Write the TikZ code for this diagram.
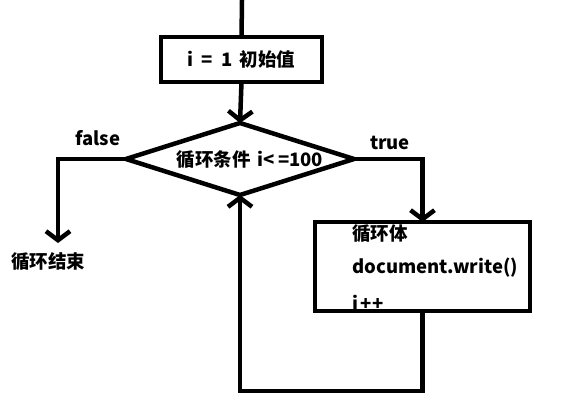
\documentclass[tikz,border=0pt]{standalone}
\usepackage{fontspec}
\setmainfont{Noto Sans CJK SC}
\usetikzlibrary{arrows.meta,shapes.geometric}
\begin{document}
\begin{tikzpicture}[x=1pt,y=-1pt,
  ln/.style={line width=4.5pt},
  arr/.style={line width=4.5pt,-{Straight Barb[length=9pt,width=24pt]}},
  txt/.style={font=\fontsize{18.5pt}{20pt}\selectfont\bfseries,inner sep=0pt},
  boxst/.style={draw,line width=4.5pt,rectangle,inner sep=0pt,outer sep=0pt},
  diam/.style={draw,line width=4.5pt,diamond,inner sep=0pt,outer sep=0pt,minimum width=228pt,minimum height=72pt}]
\useasboundingbox[fill=white] (0,0) rectangle (561,409);
% nodes
\node[boxst,minimum width=161pt,minimum height=45pt,txt] (b1) at (241.5,59.5) {i\hspace{4pt} = \hspace{4pt}1\hspace{3pt} 初始值};
\node[diam] (d) at (240,159) {};
\node[txt] (dl) at (250,160) {循环条件\hspace{3pt} i<\hspace{3pt}=100};
\node[txt] (fl) at (98,138) {false};
\node[txt] (tl) at (390,143) {true};
\node[txt] (end) at (48,262) {循环结束};
\node[txt,anchor=west] (t1) at (352,234) {循环体};
\node[txt,anchor=west] (t2) at (352,268) {document.write()};
\node[txt,anchor=west] (t3) at (352,303) {i\hspace{2pt}+\hspace{1pt}+};
\node[boxst,minimum width=215pt,minimum height=89pt] (b2) at (422.5,266.5) {};
\coordinate (top) at (242,0);
\coordinate (fend) at (58,243);
\coordinate (loopc) at (240,391);
% connectors
\draw[ln] (top) -- (b1.north);
\draw[arr] (b1.south) -- (d.north);
\draw[arr] (d.west) -| (fend);
\draw[arr] (d.east) -| (b2.north);
\draw[arr] (b2.south) |- (loopc) -- (d.south);
\end{tikzpicture}
\end{document}
